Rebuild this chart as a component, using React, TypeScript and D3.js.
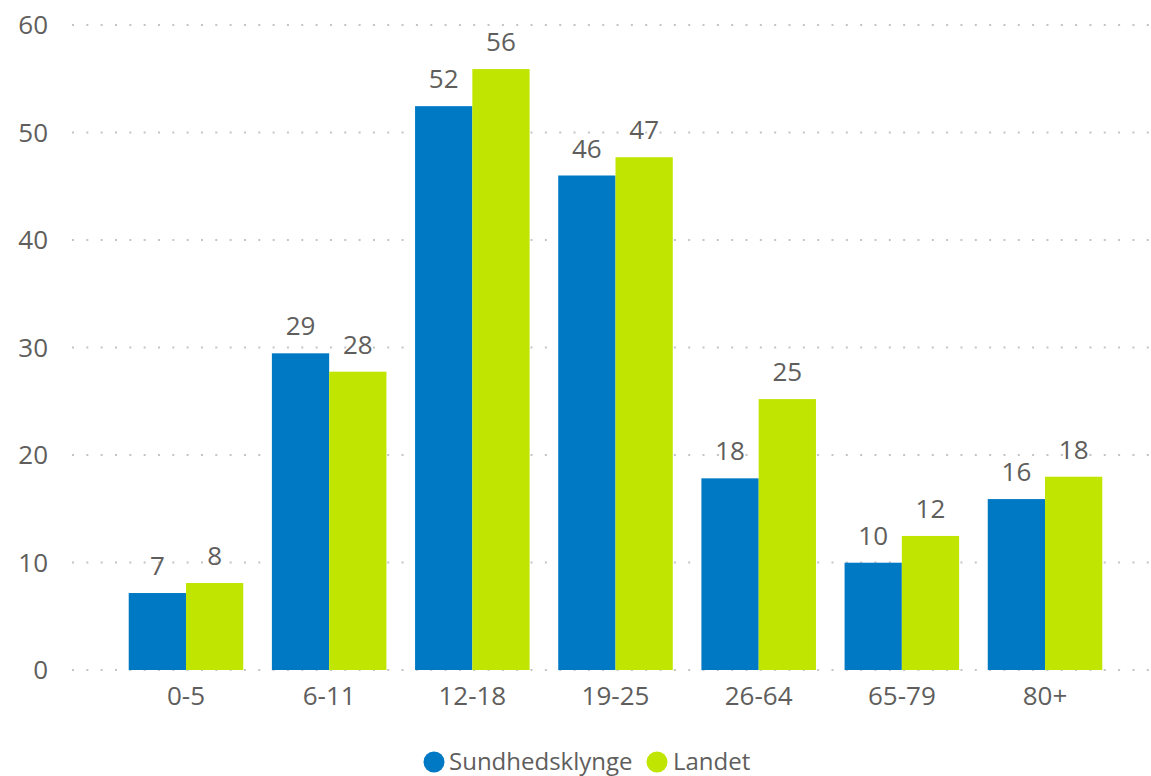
import React from "react";
import * as d3 from "d3";

const categories = ["0-5", "6-11", "12-18", "19-25", "26-64", "65-79", "80+"];
const seriesNames = ["Sundhedsklynge", "Landet"];
const sundhedsklynge = [7.16, 29.46, 52.45, 46.0, 17.83, 9.98, 15.9];
const landet = [8.09, 27.75, 55.9, 47.7, 25.2, 12.47, 17.98];
const sundhedsklyngeLabels = ["7", "29", "52", "46", "18", "10", "16"];
const landetLabels = ["8", "28", "56", "47", "25", "12", "18"];
const yTicks = [0, 10, 20, 30, 40, 50, 60];
const colors = ["#0079C4", "#C0E500"];

const W = 1151;
const H = 776;
const FONT = "'Segoe UI', 'Open Sans', sans-serif";
const TEXT = "#605E5C";

export default function App() {
  const x0 = d3
    .scaleBand<string>()
    .domain(categories)
    .range([114.4, 1116.6])
    .paddingInner(0.2)
    .paddingOuter(0.1);
  const x1 = d3
    .scaleBand<string>()
    .domain(seriesNames)
    .range([0, x0.bandwidth()]);
  const y = d3.scaleLinear().domain([0, 60]).range([670, 25]);

  const series = [
    { name: seriesNames[0], values: sundhedsklynge, labels: sundhedsklyngeLabels, color: colors[0] },
    { name: seriesNames[1], values: landet, labels: landetLabels, color: colors[1] },
  ];

  const legendItems = [
    { name: seriesNames[0], color: colors[0], cx: 434, tx: 449 },
    { name: seriesNames[1], color: colors[1], cx: 657, tx: 673 },
  ];

  return (
    <svg
      width={W}
      height={H}
      style={{ position: "absolute", left: 0, top: 0, background: "#fff" }}
      fontFamily={FONT}
    >
      {yTicks.map((t) => (
        <g key={t}>
          <line
            x1={72}
            x2={W}
            y1={y(t)}
            y2={y(t)}
            stroke="#C4C4C4"
            strokeWidth={2}
            strokeDasharray="2 12.33"
          />
          <text
            x={48}
            y={y(t)}
            dy="0.35em"
            textAnchor="end"
            fontSize={26}
            fill={TEXT}
          >
            {t}
          </text>
        </g>
      ))}
      {categories.map((c, i) => (
        <g key={c} transform={`translate(${x0(c)},0)`}>
          {series.map((s) => {
            const bx = x1(s.name)!;
            const top = y(s.values[i]);
            return (
              <g key={s.name}>
                <rect
                  x={bx}
                  y={top}
                  width={x1.bandwidth()}
                  height={y(0) - top}
                  fill={s.color}
                />
                <text
                  x={bx + x1.bandwidth() / 2}
                  y={top - 18}
                  textAnchor="middle"
                  fontSize={26}
                  fill={TEXT}
                >
                  {s.labels[i]}
                </text>
              </g>
            );
          })}
          <text
            x={x0.bandwidth() / 2}
            y={705}
            textAnchor="middle"
            fontSize={26}
            fill={TEXT}
          >
            {c}
          </text>
        </g>
      ))}
      {legendItems.map((l) => (
        <g key={l.name}>
          <circle cx={l.cx} cy={762} r={10.5} fill={l.color} />
          <text x={l.tx} y={770} fontSize={24} fill={TEXT}>
            {l.name}
          </text>
        </g>
      ))}
    </svg>
  );
}
